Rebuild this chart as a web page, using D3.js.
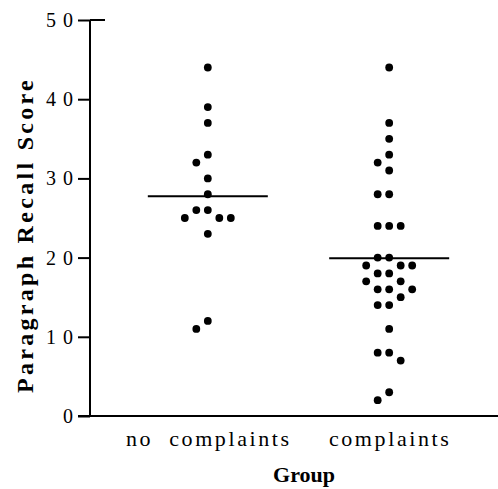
<!DOCTYPE html>
<html>
<head>
<meta charset="utf-8">
<script src="https://cdn.jsdelivr.net/npm/d3@7"></script>
<style>
  html, body { margin: 0; padding: 0; background: #fff; }
  svg { display: block; }
  text { font-family: "Liberation Serif", "Times New Roman", serif; fill: #000; }
</style>
</head>
<body>
<svg id="chart" width="498" height="489"></svg>
<script>
// Paragraph recall scores by group
const groups = ["no complaints", "complaints"];
const noComplaintsScores = [44, 39, 37, 33, 32, 30, 28, 26, 26, 25, 25, 25, 23, 12, 11];
const complaintsScores = [44, 37, 35, 33, 32, 31, 28, 28, 24, 24, 24, 20, 20, 19, 19, 19,
                          18, 18, 17, 17, 16, 16, 16, 15, 14, 14, 11, 8, 8, 7, 3, 2];
const yTicks = [0, 10, 20, 30, 40, 50];

const svg = d3.select("#chart");
const W = 498, H = 489;
const axisX = 90, axisBottom = 416, axisTop = 20;

const y = d3.scaleLinear().domain([0, 50]).range([axisBottom, axisTop]);
const x = d3.scalePoint().domain(groups).range([99, W]).padding(0.6);

const series = [noComplaintsScores, complaintsScores];
const slotW = 11.5, r = 3.9;

// dodge: equal or adjacent scores take different horizontal slots
function dodge(values) {
  const sorted = values.slice().sort((a, b) => b - a);
  const order = [0, -1, 1, -2, 2, -3, 3];
  const placed = [];
  sorted.forEach(v => {
    for (const s of order) {
      if (!placed.some(p => p.slot === s && Math.abs(p.v - v) <= 1)) {
        placed.push({ v, slot: s });
        break;
      }
    }
  });
  return placed;
}

// y axis
const yAxis = d3.axisLeft(y).tickValues(yTicks).tickSize(12).tickPadding(5)
  .tickFormat(d3.format("d"));
const gy = svg.append("g").attr("transform", `translate(${axisX},0)`).call(yAxis);
gy.select(".domain").attr("stroke", "#000").attr("stroke-width", 2)
  .attr("d", `M0,${axisTop}V${axisBottom}`);
gy.selectAll(".tick line").attr("stroke", "#000").attr("stroke-width", 2);
gy.selectAll(".tick text")
  .style("font-family", '"Liberation Serif", serif')
  .style("font-size", "20px")
  .style("letter-spacing", "7px")
  .attr("dx", "7px");
// top tick extends across the axis
gy.append("line").attr("x1", 0).attr("x2", 15)
  .attr("y1", y(50)).attr("y2", y(50))
  .attr("stroke", "#000").attr("stroke-width", 2);

// x axis baseline
svg.append("line")
  .attr("x1", axisX - 12).attr("x2", W)
  .attr("y1", axisBottom).attr("y2", axisBottom)
  .attr("stroke", "#000").attr("stroke-width", 2);

// category labels
svg.selectAll(".cat").data(groups).join("text")
  .attr("class", "cat")
  .attr("x", d => x(d) + 1)
  .attr("y", 446)
  .attr("text-anchor", "middle")
  .style("font-size", "22px")
  .style("letter-spacing", "2.6px")
  .style("word-spacing", "8px")
  .text(d => d);

// axis titles
svg.append("text")
  .attr("x", 304).attr("y", 482)
  .attr("text-anchor", "middle")
  .style("font-size", "22px").style("font-weight", "bold")
  .text("Group");

svg.append("text")
  .attr("transform", `translate(33,235) rotate(-90)`)
  .attr("text-anchor", "middle")
  .style("font-size", "24px").style("font-weight", "bold")
  .style("letter-spacing", "3.3px")
  .text("Paragraph Recall Score");

// dots and mean lines
series.forEach((vals, i) => {
  const cx = x(groups[i]);
  const pts = dodge(vals);
  svg.append("g").selectAll("circle").data(pts).join("circle")
    .attr("cx", d => cx + d.slot * slotW)
    .attr("cy", d => y(d.v))
    .attr("r", r)
    .attr("fill", "#000");
  const m = d3.mean(vals);
  svg.append("line")
    .attr("x1", cx - 60).attr("x2", cx + 60)
    .attr("y1", y(m)).attr("y2", y(m))
    .attr("stroke", "#000").attr("stroke-width", 2);
});
</script>
</body>
</html>
